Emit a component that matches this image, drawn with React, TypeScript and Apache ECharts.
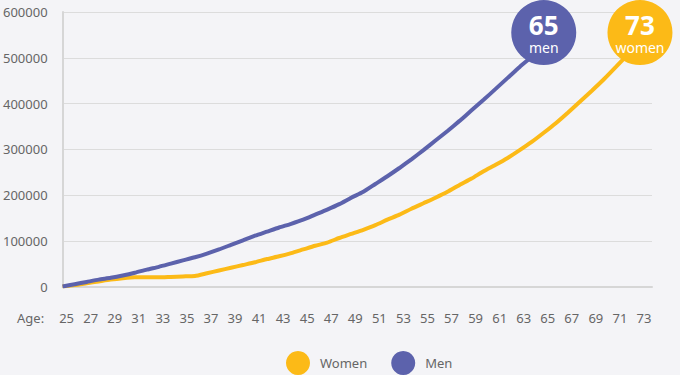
import React, { useEffect, useRef } from "react";
import * as echarts from "echarts";

const ages = [
  25, 26, 27, 28, 29, 30, 31, 32, 33, 34, 35, 36, 37, 38, 39, 40, 41, 42, 43, 44, 45, 46, 47, 48, 49,
  50, 51, 52, 53, 54, 55, 56, 57, 58, 59, 60, 61, 62, 63, 64, 65, 66, 67, 68, 69, 70, 71, 72, 73,
];

const womenValues = [
  0, 3000, 7000, 11000, 15000, 18000, 20000, 20000, 20000, 21000, 22000, 23000, 29000, 35000, 41000,
  47000, 53000, 60000, 66000, 73000, 81000, 89000, 96000, 106000, 115000, 124000, 134000, 146000,
  157000, 170000, 182000, 194000, 207000, 222000, 236000, 252000, 266000, 281000, 298000, 316000,
  336000, 357000, 380000, 404000, 428000, 453000, 480000, 508000, 537000,
];

const menValues = [
  0, 5000, 10000, 15000, 19000, 24000, 30000, 37000, 43000, 50000, 57000, 64000, 72000, 81000, 91000,
  101000, 111000, 120000, 129000, 137000, 146000, 157000, 168000, 180000, 194000, 207000, 224000,
  241000, 259000, 278000, 298000, 319000, 340000, 362000, 385000, 408000, 432000, 456000, 480000,
  502000, 525000,
];

const seriesNames = ["Women", "Men"];
const markerAges = [73, 65];
const markerValue = 555000;
const markerLabels = ["women", "men"];

const yTicks = { min: 0, max: 600000, interval: 100000 };
const xTicks = { min: 25, max: 74, interval: 2 };

const colors = ["#FCBA17", "#5C62AC"];

export default function App() {
  const ref = useRef<HTMLDivElement>(null);

  useEffect(() => {
    if (!ref.current) return;
    const chart = echarts.init(ref.current, undefined, { renderer: "svg" });
    const font = "'Noto Sans', sans-serif";
    const womenData = womenValues.map((v, i) => [ages[i], v]);
    const menData = menValues.map((v, i) => [ages[i], v]);

    const markerSeries = markerAges.flatMap((age, i) => [
      {
        type: "scatter",
        name: "marker-" + markerLabels[i],
        data: [[age, markerValue]],
        symbol: "circle",
        symbolSize: 65,
        z: 5,
        itemStyle: { color: colors[i], opacity: 1 },
        label: {
          show: true,
          position: "inside",
          offset: [0, -8],
          formatter: () => String(age),
          fontSize: 26,
          fontWeight: "bold",
          color: "#fff",
          lineHeight: 24,
          fontFamily: font,
        },
        emphasis: { disabled: true },
        silent: true,
      },
      {
        type: "scatter",
        name: "marker-sub-" + markerLabels[i],
        data: [[age, markerValue]],
        symbol: "circle",
        symbolSize: 2,
        z: 6,
        itemStyle: { color: "rgba(0,0,0,0)", opacity: 1 },
        label: {
          show: true,
          position: "inside",
          offset: [0, 15],
          formatter: () => markerLabels[i],
          fontSize: 14,
          color: "#fff",
          lineHeight: 14,
          fontFamily: font,
        },
        emphasis: { disabled: true },
        silent: true,
      },
    ]);

    chart.setOption({
      animation: false,
      backgroundColor: "#f4f4f7",
      textStyle: { fontFamily: font },
      grid: { left: 62, right: 28, top: 12, bottom: 88.5 },
      legend: {
        data: seriesNames,
        left: 286,
        top: 351,
        padding: 0,
        icon: "circle",
        itemWidth: 24,
        itemHeight: 24,
        itemGap: 24,
        textStyle: { color: "#666", fontSize: 13, fontFamily: font, padding: [0, 0, 0, 5] },
      },
      graphic: [
        {
          type: "text",
          left: 17,
          top: 311,
          style: { text: "Age:", fill: "#666", fontSize: 13, fontFamily: font },
        },
      ],
      xAxis: {
        type: "value",
        min: xTicks.min,
        max: xTicks.max,
        interval: xTicks.interval,
        axisLine: { show: true, lineStyle: { color: "#d6d6d6", width: 2 } },
        axisTick: { show: false },
        splitLine: { show: false },
        axisLabel: {
          color: "#666",
          fontSize: 13,
          fontFamily: font,
          margin: 25,
          padding: [0, 0, 0, 8],
          formatter: (v: number) => (v === xTicks.max ? "" : String(v)),
        },
      },
      yAxis: {
        type: "value",
        min: yTicks.min,
        max: yTicks.max,
        interval: yTicks.interval,
        axisLine: { show: true, lineStyle: { color: "#d6d6d6", width: 2 } },
        axisTick: { show: false },
        splitLine: { show: true, lineStyle: { color: "#dcdcdc", width: 1 } },
        axisLabel: {
          color: "#666",
          fontSize: 13,
          fontFamily: font,
          margin: 15,
          formatter: (v: number) => String(v),
        },
      },
      series: [
        {
          type: "line",
          name: seriesNames[0],
          data: womenData,
          showSymbol: false,
          symbol: "circle",
          smooth: 0.2,
          color: colors[0],
          lineStyle: { width: 4, color: colors[0] },
          z: 2,
        },
        {
          type: "line",
          name: seriesNames[1],
          data: menData,
          showSymbol: false,
          symbol: "circle",
          smooth: 0.2,
          color: colors[1],
          lineStyle: { width: 4, color: colors[1] },
          z: 3,
        },
        ...markerSeries,
      ],
    });
    return () => chart.dispose();
  }, []);

  return (
    <div
      ref={ref}
      style={{ position: "fixed", left: 0, top: 0, width: 680, height: 375 }}
    />
  );
}
